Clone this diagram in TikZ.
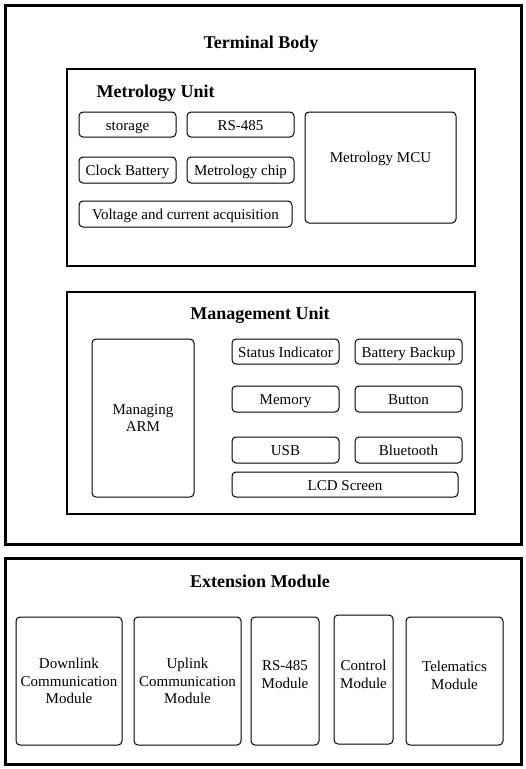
\documentclass[tikz,border=0pt]{standalone}
\usepackage{fontspec}
\setmainfont{Liberation Serif}
\usetikzlibrary{positioning}

\begin{document}
\begin{tikzpicture}[x=1pt, y=-1pt,
    outerbox/.style={draw, line width=3pt, inner sep=0pt},
    unitbox/.style={draw, line width=2pt, inner sep=0pt},
    partbox/.style={draw, line width=1pt, rounded corners=4pt, inner sep=0pt,
      align=center, font=\fontsize{15}{17.5}\selectfont},
    onerow/.style={partbox, text height=11pt, text depth=0pt},
    parttext/.style={align=center, font=\fontsize{15}{17.5}\selectfont},
    headline/.style={font=\fontsize{18}{20}\selectfont\bfseries}]
    \useasboundingbox (0,0) rectangle (526,769);
    %--- TERMINAL BODY ---
    \node[outerbox, minimum width=516pt, minimum height=539pt] (body) at (263.5,275) {};
    \node[headline, anchor=base] (bodytitle) at (261,48) {Terminal Body};
    %--- METROLOGY UNIT ---
    \node[unitbox, minimum width=408pt, minimum height=197pt] (metro) at (271,167.5) {};
    \node[headline, anchor=base west] (metrotitle) at (93,97) {Metrology Unit};
    \node[onerow, minimum width=97pt, minimum height=25pt] (storage) at (127.5,124.5) {storage};
    \node[onerow, minimum width=107pt, minimum height=25pt] (rsmetro) at (240.5,124.5) {RS-485};
    \node[onerow, minimum width=97pt, minimum height=26pt] (clock) at (127.5,170) {Clock Battery};
    \node[onerow, minimum width=107pt, minimum height=26pt] (chip) at (240.5,170) {Metrology chip};
    \node[onerow, minimum width=213pt, minimum height=26pt] (acq) at (185.5,214) {Voltage and current acquisition};
    \node[partbox, minimum width=151pt, minimum height=111pt,
      label={[parttext, yshift=8.5pt]center:Metrology MCU}] (mcu) at (380.5,167.5) {};
    %--- MANAGEMENT UNIT ---
    \node[unitbox, minimum width=408pt, minimum height=222.6pt] (manage) at (271,403) {};
    \node[headline, anchor=base] (managetitle) at (260,319) {Management Unit};
    \node[partbox, minimum width=102pt, minimum height=158pt] (arm) at (143,418) {Managing\\ARM};
    \node[onerow, minimum width=107pt, minimum height=25pt] (status) at (285.5,351.5) {Status Indicator};
    \node[onerow, minimum width=107pt, minimum height=25pt] (backup) at (408.5,351.5) {Battery Backup};
    \node[onerow, minimum width=107pt, minimum height=26pt] (memory) at (285.5,399) {Memory};
    \node[onerow, minimum width=107pt, minimum height=26pt] (button) at (408.5,399) {Button};
    \node[onerow, minimum width=107pt, minimum height=26pt] (usb) at (285.5,450) {USB};
    \node[onerow, minimum width=107pt, minimum height=26pt] (bt) at (408.5,450) {Bluetooth};
    \node[onerow, minimum width=226pt, minimum height=25pt] (lcd) at (345,484.5) {LCD Screen};
    %--- EXTENSION MODULE ---
    \node[outerbox, minimum width=516pt, minimum height=206pt] (ext) at (263.5,661.5) {};
    \node[headline, anchor=base] (exttitle) at (260,587) {Extension Module};
    \node[partbox, minimum width=106pt, minimum height=128pt] (down) at (69,681) {Downlink\\Communication\\Module};
    \node[partbox, minimum width=107pt, minimum height=128pt] (up) at (187.5,681) {Uplink\\Communication\\Module};
    \node[partbox, minimum width=68pt, minimum height=128pt,
      label={[parttext, yshift=6.5pt]center:{RS-485\\Module}}] (rsmod) at (285,681) {};
    \node[partbox, minimum width=59pt, minimum height=129pt,
      label={[parttext, yshift=5pt]center:{Control\\Module}}] (ctrl) at (363.5,679.5) {};
    \node[partbox, minimum width=97pt, minimum height=128pt,
      label={[parttext, yshift=5.5pt]center:{Telematics\\Module}}] (tele) at (454.5,681) {};
  \end{tikzpicture}
\end{document}
